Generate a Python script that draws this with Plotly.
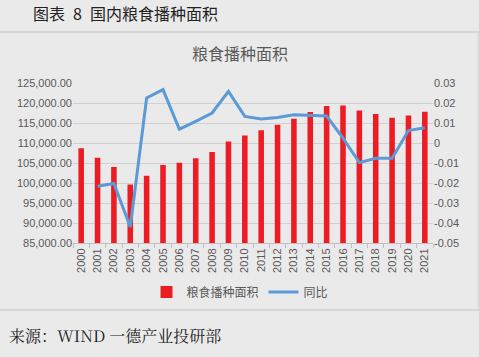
import plotly.graph_objects as go

years = [str(y) for y in range(2000, 2022)]
area = [108690, 106330, 104000, 99650, 101810, 104500, 105070, 106180, 107760, 110350,
        111850, 113200, 114540, 116040, 117720, 119230, 119380, 118120, 117220, 116290,
        116870, 117800]
yoy = [None, -0.0216, -0.0202, -0.042, 0.0225, 0.0267, 0.0069, 0.0108, 0.015, 0.0258,
       0.0133, 0.012, 0.0128, 0.0141, 0.0138, 0.0135, 0.0024, -0.0098, -0.0076, -0.0076,
       0.0062, 0.0076]
left_ticks = [85000, 90000, 95000, 100000, 105000, 110000, 115000, 120000, 125000]
right_ticks = [-0.05, -0.04, -0.03, -0.02, -0.01, 0, 0.01, 0.02, 0.03]
right_text = ["-0.05", "-0.04", "-0.03", "-0.02", "-0.01", "0", "0.01", "0.02", "0.03"]

BG = "#ebeaeb"
GRAY = "#595959"
FONT = "Noto Sans CJK SC"

fig = go.Figure()
fig.add_trace(go.Bar(x=years, y=area, name="粮食播种面积", marker_color="#ec1c24",
                     marker_line_width=0))
fig.add_trace(go.Scatter(x=years, y=yoy, name="同比", yaxis="y2", mode="lines",
                         line=dict(color="#5b9bd5", width=3)))

L, R, T, B = 73, 46, 83, 114
H = 357 - T - B
W = 479 - L - R

def px(x):
    return (x - L) / W

def py(y):
    return (357 - B - y) / H

fig.update_layout(
    width=479, height=357,
    margin=dict(l=L, r=R, t=T, b=B, pad=0),
    paper_bgcolor=BG, plot_bgcolor=BG,
    font=dict(family=FONT, color=GRAY, size=11),
    bargap=0.66,
    showlegend=True,
    legend=dict(orientation="h", x=px(240), y=py(292), xanchor="center", yanchor="middle",
                font=dict(size=12, color=GRAY), bgcolor="rgba(0,0,0,0)", itemwidth=30),
    xaxis=dict(type="category", tickangle=-90, tickson="boundaries", ticks="outside",
               ticklen=4, tickcolor="#bfbfbf", showline=True, linecolor="#bfbfbf",
               showgrid=False, tickfont=dict(size=11, color=GRAY, family="Liberation Sans")),
    yaxis=dict(range=[85000, 125000], tickvals=left_ticks, tickformat=",.2f",
               showgrid=True, gridcolor="#d0d0d0", gridwidth=1, zeroline=False,
               tickfont=dict(size=11, color=GRAY, family="Liberation Sans"), ticks=""),
    yaxis2=dict(range=[-0.05, 0.03], overlaying="y", side="right", tickvals=right_ticks,
                ticktext=right_text, showgrid=False, zeroline=False,
                tickfont=dict(size=11, color=GRAY, family="Liberation Sans")),
    shapes=[
        dict(type="line", xref="paper", yref="paper", x0=px(0), x1=px(479),
             y0=py(32), y1=py(32), line=dict(color="#cfcfcf", width=1.5)),
        dict(type="line", xref="paper", yref="paper", x0=px(0), x1=px(479),
             y0=py(310), y1=py(310), line=dict(color="#cfcfcf", width=1.5)),
        dict(type="line", xref="paper", yref="paper", x0=px(478), x1=px(478),
             y0=py(32), y1=py(310), line=dict(color="#d6d6d6", width=1)),
    ],
    annotations=[
        dict(text="图表\u20028\u2002国内粮食播种面积", xref="paper", yref="paper", x=px(31), y=py(13),
             xanchor="left", yanchor="middle", showarrow=False,
             font=dict(size=16, color="#222222", family=FONT)),
        dict(text="粮食播种面积", xref="paper", yref="paper", x=px(240), y=py(53),
             xanchor="center", yanchor="middle", showarrow=False,
             font=dict(size=16, color=GRAY, family=FONT)),
        dict(text="来源：WIND 一德产业投研部", xref="paper", yref="paper", x=px(7), y=py(335),
             xanchor="left", yanchor="middle", showarrow=False,
             font=dict(size=16, color="#222222", family="Noto Serif CJK SC, Noto Sans CJK SC")),
    ],
)

fig.write_html("out.html", config={"displayModeBar": False},
               post_script="document.body.style.margin='0';document.body.style.background='#ebeaeb';")
